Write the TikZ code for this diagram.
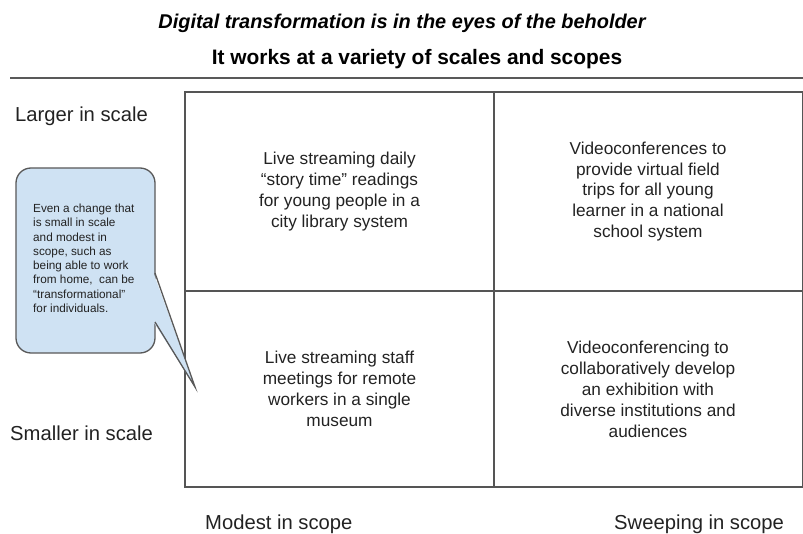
\documentclass[tikz,border=0pt]{standalone}
\usepackage{fontspec}
\setmainfont{Liberation Sans}
\definecolor{notefill}{HTML}{CFE2F3}
\definecolor{noteline}{HTML}{595959}
\definecolor{gridline}{HTML}{555555}
\definecolor{inktext}{HTML}{222222}
\tikzset{
  cellbox/.style={draw=gridline, line width=1.3bp, minimum width=309bp, inner sep=0pt,
    align=center, text=inktext, font=\fontsize{17.3}{21}\selectfont},
  axislabel/.style={anchor=base west, inner sep=0pt, text=inktext, font=\fontsize{20.3}{24}\selectfont},
  titletext/.style={anchor=base, inner sep=0pt, text=black, font=\fontsize{20}{24}\selectfont\bfseries},
  notebox/.style={draw=noteline, fill=notefill, line width=1.3bp, rounded corners=15bp,
    minimum width=139bp, minimum height=185bp, inner sep=0pt},
  notetext/.style={anchor=north west, inner sep=0pt, align=left, text=inktext,
    font=\fontsize{11.8}{14.3}\selectfont},
}
\begin{document}
\begin{tikzpicture}[x=1bp, y=-1bp]
\useasboundingbox (0,0) rectangle (803,534);

% headings and rule
\node[titletext] (title) at (402,29) {\itshape Digital transformation is in the eyes of the beholder};
\node[titletext, font=\fontsize{21}{24}\selectfont\bfseries] (subtitle) at (417,65) {It works at a variety of scales and scopes};
\coordinate (ruleL) at (10,78);
\coordinate (ruleR) at (803,78);
\draw[draw=noteline, line width=1.3bp] (ruleL) -- (ruleR);

% the four quadrants
\node[cellbox, minimum height=199bp] (tl) at (339.5,191.5)
  {Live streaming daily\\``story time'' readings\\for young people in a\\city library system};
\node[cellbox, minimum height=199bp] (tr) at (648,191.5)
  {Videoconferences to\\provide virtual field\\trips for all young\\learner in a national\\school system};
\node[cellbox, minimum height=196bp] (bl) at (339.5,389)
  {Live streaming staff\\meetings for remote\\workers in a single\\museum};
\node[cellbox, minimum height=196bp] (br) at (648,389)
  {Videoconferencing to\\collaboratively develop\\an exhibition with\\diverse institutions and\\audiences};

% axis labels
\node[axislabel] (large) at (15,122) {Larger in scale};
\node[axislabel] (small) at (10,440) {Smaller in scale};
\node[axislabel] (modest) at (205,529) {Modest in scope};
\node[axislabel] (sweep) at (614,529) {Sweeping in scope};

% speech bubble pointing at the small/modest quadrant
\node[notebox] (note) at (85.5,260.5) {};
\coordinate (tipA) at (155,273);
\coordinate (tip) at (195,387);
\coordinate (tipB) at (155,322);
\fill[notefill] ([xshift=-1.5bp]tipA) -- (tip) -- ([xshift=-1.5bp]tipB) -- cycle;
\draw[draw=noteline, line width=1.3bp, line join=miter] (tipA) -- (tip) -- (tipB);
\node[notetext] (notetxt) at (33,204)
  {Even a change that\\is small in scale\\and modest in\\scope, such as\\being able to work\\from home,\ \ can be\\``transformational''\\for individuals.};
\end{tikzpicture}
\end{document}
